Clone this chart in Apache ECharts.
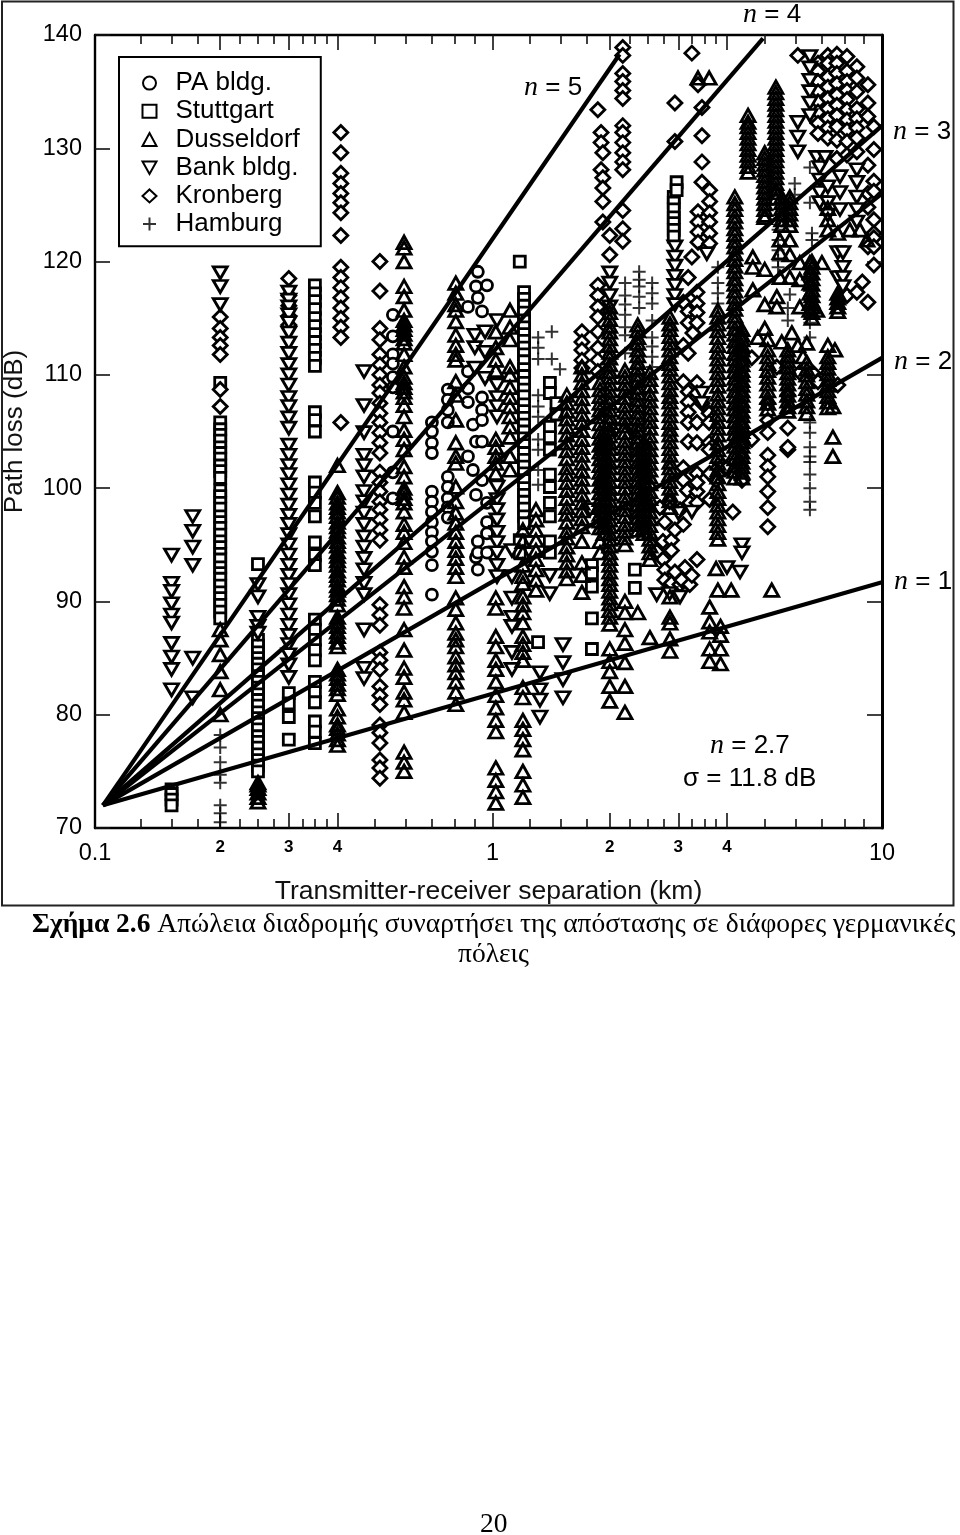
<!DOCTYPE html>
<html><head><meta charset="utf-8"><style>html,body{margin:0;padding:0;background:#fff}#c{width:960px;height:1535px}</style>
<script src="https://cdn.jsdelivr.net/npm/echarts@6/dist/echarts.min.js"></script></head><body><div id="c"></div><script>
// Axis ticks (km) and labels
const minorTicks=[.125,.15,.175,.225,.25,.275,.325,.35,.375,.5,.6,.7,.8,.9,1.25,1.5,1.75,2.25,2.5,2.75,3.25,3.5,3.75,5,6,7,8,9];
const majorTicks=[.2,.3,.4,1,2,3,4];
const smallLabels=[.2,.3,.4,2,3,4];
const yTicks=[70,80,90,100,110,120,130,140];
const xMin=0.0954, xMax=10;
// Reference lines: n, end point [km, dB]; all start at [0.1, 72]
const origin=[0.1,72];
const lineEnds=[[5,2.12,138.3],[4,4.95,139.7],[3,10,132],[2.7,10,126],[2,10,111.5],[1,10,91.7]];
// Measured columns: [km, dB, dB, ...]
const stuttgart=[
[.15,73.4,73,72.5,72],
[.2,109.3,105.8,105.2,104.7,104.2,103.6,103.1,102.6,102,101.5,100.9,99.8,99.3,98.7,98.2,97.5,97,96.5,95.9,95.3,94.8,94.2,93.7,93,92.5,92,91.4,90.8,90.3,89.7,89.1,88.5],
[.25,93.3,86.6,86.1,85.5,85,84.5,84,83.4,82.9,82.4,81.8,81.3,80.8,80.2,79.7,79.2,78.7,78.1,77.6,77.1,76.5,76,75.5,75],
[.3,81.9,81,79.8,77.8],
[.35,117.9,117.2,116.5,115.8,115,114.3,113.6,112.9,112.2,111.5,110.8,106.7,106,105,100.5,99.6,98.7,97.5,95.2,94.1,93.2,88.4,87.5,86.6,85.7,84.8,82.9,82,81.1,79.4,78.5,77.5],
[1.175,120,95.4,94.3],
[1.205,117.3,116.7,116.1,115.5,114.8,114.2,113.6,113,112.4,111.8,111.2,110.5,109.9,109.3,108.7,108.1,107.4,106.8,106.2,105.6,105,104.4,103.8,103.1,102.5,101.9,101.3,100.7,100,99.4,98.8,98.2,97.5,96.9],
[1.309,86.4],
[1.404,109.3,108.4,105.4,104.5,103.4,101.2,100.1,98.7,97.5,95.3,94.3],
[1.46,107.5,106.5],
[1.8,93.2,92.5,91.3,88.5,85.8],
[2.32,92.8,91.2],
[2.92,125.7,125.2,124.6,123.9,123.4,122.8,122.2],
[2.97,127,126.3]];
const paBldg=[
[.555,115.3,113.4,111.8,111,109.8,108.9,105,101.4,99.1],
[.699,105.8,105,104,103.1,99.7,98.8,97.9,97,96.1,95.3,94.4,93.2,90.6],
[.768,108.7,107.8,106.9,105.8,101,100.1,99.1,98.3,97.4],
[.865,116,110.3,108.8,107.6,102.8],
[.891,105.6,101.6],
[.907,117.8,104.1,99.4,93.9],
[.917,119.1,116.8,95.3,94.3,92.8],
[.94,115.6,108,106.9,106,104.1,100.7],
[.968,117.9,98.7,97,96,94.3]];
const kronberg=[
[.2,115.1,114.1,113.3,112.6,111.8,108.7,107.2],
[.3,118.5,117,116.1,115.2,114.4],
[.408,131.4,129.6,127.8,126.9,126,125.2,124.3,122.3,119.5,118.6,117.7,116.8,115.9,115,114.2,113.3,105.8],
[.514,120,117.4,114.1,113.1,111.8,110.9,110,109.1,108.4,107.5,106.6,105.8,104.9,104,103.1,101.4,100.5,99.7,98.8,98.1,97.2,96.3,95.4,89.7,88.8,87.9,85.5,84.8,84,82.5,81.7,80.9,79.1,78.4,77.5,76,75.3,74.4],
[1.697,113.8,112.9,112.2,111.3,110.6],
[1.864,133.4,117.9,117,116,115.1,113.8,112.4,111.3,110.3],
[1.9,131.4,130.5,128.1],
[1.92,129.6,127.4,126.5,125.3,123.5],
[2,122.3,120.6],
[2.16,138.9,138.2,136.6,135.9,135.1,134.4,132,131.4,130.5,129.6,128.8,128.1,124.5,122.9,121.8],
[2.64,94.4],[2.69,98.3],[2.74,95.3,93.7],[2.77,97,92.8,91.9],[2.85,98.8],[2.88,95.4,94.5,91.6],
[2.94,134,130.6,96.3,92.6],[3.03,98.1,91.5],[3.06,91.9],[3.09,116.4,112.6,109.4,101.8,100.7,96.8],
[3.12,93],[3.16,99.8],[3.18,118.6,115.6,114.6,111.9,108.5,107.6,106.7,105.8,104.1],[3.21,98.7,91.5],
[3.25,138.4,120.4,101.2,92.3],[3.27,113.7],[3.35,117.3,116.3,115.5,114.6,109.3,108.4,105.8,104,101.3,99.7,98.7,100.5,93.7],
[3.37,135.6,124.4,123.5,122.6,121.7],[3.45,133.6,131.1,128.8,127,107.5],[3.6,106.6,105.8,104,103.4],
[3.61,126.3,125.3,124.3,123.5,122.5,121.6,101.3,99],[3.75,100.7],[3.9,102],[4,101.8],[4.14,97.9],[4.37,100.7],
[4.63,111.5,104.3],[5.09,107.5,106,104.9,102.9,101.9,101,99.7,98.3,96.6],[5.37,110.7],[5.73,108.2,105.3,103.4,103.6],
[6.08,138.2],[6.15,110.2],[6.63,110.2],[6.85,137.5,136.8,135.9,135,134.1,133.2,132.2,131.3,109.4],
[7.26,138.2,137.5,136.3,135.4,134.4,133.5,132.6,131.8,130.9],
[7.66,138.3,137.5,136.6,135.7,134.7,133.8,132.9,131.9,130.7,129.1],[7.7,109.1],
[8.13,138.1,136.8,135.9,135.1,134.3,133.4,132.5,131.6,130.6,129.4,117],
[8.62,137.2,136.2,135,133.5,132.6,131.8,130.9,129.7,117.3],[8.9,118.2],
[9.2,135.6,134,132.8,128.5,126,124.8,121.3,116.4],
[9.53,131.9,129.9,127.1,126.2,123.7,122.5,122.1,121.3,119.7]];
const bankBldg=[
[.15,94.1,91.6,90.9,89.8,88.8,88.1,86.3,85.1,84,82.2],
[.17,97.5,96.2,94.8,93.2,85,81.5],
[.2,119,117.8,116.2],
[.25,91.5,90.4,88.6,87.8,87.2],
[.3,117.3,116.6,116,115.3,114.6,113.7,112.8,111.9,110.9,110,109.1,108,107.2,106.2,105.3,103.8,102.9,102,101.2,100.3,99.4,98.5,97.6,96.8,95.9,95,94.1,93.2,92.3,91.5,90.6,89.7,88.8,87.9,87,86.2,85.3,84.4,83.3],
[.468,110.3,107.3,104.9,102.9,102,101,99.7,98.8,97.8,96.8,95.7,94.8,93.8,92.8,91.6,90.6,87.5,84.1,83.2],
[.901,113.5,112.4,110.6],[.957,113.8,112,109.7],
[1.027,114.8,109.1,108,107.2,106.3,100.1,99,98.1,97.2,96.1,95.2,94.3,93.2,92.2],
[1.122,94.5,92.2,90.3,88.6,87.8,85.5,84],
[1.324,83.7,82.2,81.3,79.8],[1.403,92.3,90.7],[1.517,86.2,84.6,83.1,81.5],[1.78,98.1],
[2,119,118.1,117,116],[2.07,105.1],[2.28,105.1],[2.64,90.6],[2.85,90.7],
[2.94,121.3,120.4,119.6,118.7,117.9,117,116.2],[3,97.8],[3.03,90.4],[3.25,97.9],[3.45,108.4,107.5],[3.55,120.7],
[4,93],[4.32,92.6],[4.37,95,94.3],
[6.08,132.3,131,129.7],[6.53,138.1,137.1,136,135,134,132.9],[6.8,129.2],[6.92,128.3,127.2,126.1,125.2],[7.14,129.2],
[7.26,126.6,125.2,124.1],[7.7,120.8,118.6],[7.8,127.5,126.1,124.6],[7.94,120.8,119.5,118.6,117.8],[8.62,128.1,127,125.7,124.6,123.5]];
const dusseldorf=[
[.2,87.5,86.6,85.3,83.8,82.2,80],
[.25,74,73.8,73.5,73.1,72.7,72.3],
[.4,102,99.6,99.2,98.7,98.3,97.9,97.5,97,96.6,96.2,95.7,95.3,94.9,94.4,94,93.6,93.2,92.7,92.3,91.9,91.4,91,90.6,90.2,89.7,88.6,88.2,87.8,87.3,86.9,86.4,86,84,83.6,83.2,82.7,82.3,81.8,80.5,79.8,79.1,78.8,78.3,77.8,77.3],
[.593,121.7,121.2,120,117.8,116.9,115.7,114.8,114.4,114,113.6,113.2,112.8,111.8,110.7,109.8,109.3,108.9,108.5,108,107.3,106.3,105.1,104.3,103.4,101.9,101,100,99.6,99.1,98.7,97.9,96.8,96.1,95.2,93.9,93,91.3,90.4,89.4,87.5,85.7,84.1,83.3,82,81.3,80.2,76.7,75.8,75],
[.805,118.1,117.2,116.2,115.7,114.7,113.5,112.6,111.8,111.3,109.4,108.2,106,104,102.8,102.2,100.1,98.8,97.8,96.9,96.1,95.3,94.5,93.8,93,92.2,90.3,89.3,88.1,87.2,86.6,86,85.1,84.4,83.7,82.9,82,80.9],
[1.02,113.8,112.4,111.3,110.4,104.3,103.6,102.8,102.2,101.3,90.3,89.4,86.9,86,84.8,84,82.9,81.7,80.6,79.5,78.5,75.3,74.2,73.2,72.2],
[1.109,115.7,114.2,113.1,110.7,110,108.9,108,107.2,106.3,105.4,104.5,102.8,101.6],
[1.197,96.3,95.3,94.3,93.2,92.2,91.6,90.4,89.7,89,88.1,86.9,86.2,85.5,84.8,82.4,81.5,79.5,78.7,77.8,76.9,75,73.8,72.7],
[1.293,98.1,97.2,96.3,95.4,94.5,93.7,92.8,91.9,91],
[1.552,108.2,107.5,106.8,106.1,105.4,104.7,104,103.3,102.6,101.8,101.2,100.5,99.8,99.1,98.3,97.7,97,96.2,95.6,94.8,94.1,93.4,92.7,92],
[1.697,110.7,110,109.3,108.6,107.9,107.2,106.5,105.8,105.1,104.3,103.6,102.9,102.2,101.5,100.8,100.1,99.4,98.7,98,97.3,96.6,95.3,93.4,92.3,90.8],
[1.888,109.3,108.7,108.1,107.5,106.9,106.3,105.7,105,104.4,103.8,103.2,102.6,102,101.4,100.8,100.2,99.6,99,98.3,97.7,97.1,96.5,95.3,94.3],
[1.932,105,104.5,104,103.5,103,102.5,102,101.5,101,100.5,100,99.5,99,98.5,98,97.5,97,96.5,96],
[2,116,115.5,114.9,114.3,113.8,113.2,112.6,112,111.5,110.9,110.3,109.8,109.2,108.6,108,107.5,106.9,106.3,105.8,105.2,104.6,104,103.5,102.9,102.3,101.8,101.2,100.6,100,99.5,98.9,98.3,97.8,97.2,96.6,96,95.5,94.9,94.3,93.8,93.2,92.6,92,91.5,90.9,90.3,89.8,89.2,88.6,88,85.8,84.7,83.8,82.5,81.2],
[2.188,110.4,109.8,109.2,108.6,108,107.3,106.7,106.1,105.5,104.9,104.2,103.6,103,102.4,101.8,101.2,100.6,100,99.3,98.7,98.1,97.5,96.8,96.2,95.6,95,90,89,87.5,86.3,84.6,82.5,80.2],
[2.361,114.4,113.9,113.3,112.8,112.2,111.7,111.1,110.6,110,109.5,108.9,108.4,107.8,107.3,106.7,106.2,105.6,105.1,104.5,104,103.4,102.9,102.3,101.8,101.2,100.7,100.1,99.6,99,98.5,97.9,97.4,96.8,96.3,89],
[2.449,104,103.5,103,102.5,102,101.5,101,100.5,100,99.5,99,98.5,98,97.5,97,96.5,96],
[2.536,110.2,109.6,109,108.3,107.7,107.1,106.5,105.9,105.3,104.6,104,103.4,102.8,102.2,101.6,101,100.4,99.7,99.1,98.5,97.9,97.3,96.7,96.1,95.5,94.9,94.3,93.7,86.8],
[2.855,115.1,114.5,114,113.4,112.8,112.2,111.6,111,110.5,109.9,109.3,108.7,108.1,107.6,107,106.4,105.8,105.2,104.7,104.1,103.5,102.9,102.3,101.8,101.2,100.6,100,99.4,98.9,98.3,90.4,88.1,88.6,86.7,85.6],
[3.6,136.2],[3.37,136.2],
[3.61,89.5,88.2,87.3,85.8,84.7],[3.75,92.9],[3.79,115.7,115.1,114.5,113.9,113.3,112.6,112,111.4,110.8,110.2,109.6,109,108.3,107.7,107.1,106.5,105.9,105.3,104.7,104,103.4,102.8,102.2,101.6,101,100.4,99.7,99.1,98.5,97.9,97.3,96.7,96.1,95.5,91],
[3.85,85.8,84.5,87.8,87],[4.1,91],
[4.19,125.7,125.1,124.6,124,123.5,122.9,122.4,121.8,121.3,120.7,120.2,119.6,119.1,118.5,118,117.4,116.9,116.3,115.8,115.2,114.7,114.1,113.6,113,112.5,111.9,111.4,110.8,110.3,109.7,109.2,108.6,108.1,107.5,107,106.4,105.9,105.3,104.8,104.2,103.7,103.1,102.6,102,101.5,100.9],
[4.37,114,113.5,113.1,112.6,112.2,111.8,111.3,110.9,110.4,110,109.5,109.1,108.6,108.2,107.7,107.3,106.8,106.4,105.9,105.5,105,104.6,104.1,103.7,103.2,102.8,102.3,101.9,101.4,100.9],
[4.53,132.9,132.3,131.9,131.4,130.9,130.4,129.9,129.4,128.9,128.4,127.9],
[4.66,120.4,119.5,117.5],[4.8,113.3],[5,129.6,129.1,128.6,128.1,127.6,127.1,126.6,126.1,125.6,125.1,124.6,124.1,123.9,119.3,116.2,114.1],
[5.09,113.1,112.2,111.6,111,110.4,109.8,109.2,108.6,108,107.5,107],[5.21,91],
[5.34,135.4,134.9,134.4,133.9,133.4,132.9,132.4,131.9,131.4,130.9,130.4,129.9,129.4,128.9,128.4,127.9,127.4,126.9,126.4,126.1,125.6],
[5.37,116.9,116],
[5.47,121.9,120.8,118.6],[5.53,125.7,125.2,124.7,124.2,123.7,123.2,112.9],[5.8,125.7,125.2,124.7,124.2,123.7,123.2,121.9,120.6,118.6],
[5.73,112.2,111.7,111.2,110.7,110.2,109.7,109.2,108.7,108.2,107.7,107.2,106.8],[5.87,113.7],[6.08,112.6],
[6.15,119.9,118.4,116],[6.27,111.6],[6.41,112.8,111.1,110.5,110,109.4,108.8,108.3,107.7,107.2,106.6],
[6.53,119.9,119,118.1,117.2,116.3,115.7],[6.61,120,119.5,119,118.5,118,117.5,117,116.5,116,115.5,115],
[6.8,115.7],[7.01,119.9],
[7.26,124.7,123.7,122.8,112.6,111.6,111.1,110.6,110.1,109.6,109.1,108.6,108.1,107.6,107.1],[7.48,107.2,104.5,102.8],[7.57,112.2],
[7.7,122.5,117.2,116.8,116.4,116,115.6],[8.27,122.8],[8.78,122.8],[9.15,121.9]];
const hamburg=[
[.2,78.2,77.1,75.8,74.7,74,72,71.3,70.5],
[1.31,113.3,112.4,111.4,108.2,107.2,106.3,104.3,103.4,101.6,100.3],
[1.42,113.8,111.4],[1.49,110.5],
[2.19,118.1,117,116.2,115.3,114.2,113.5,111.9],
[2.38,119.1,118.4,117.8,116.9,115.9],
[2.57,118.1,117.2,116.3,114.8,113.3,112.5,111.6,110.7],
[3.79,119.5,118.1,117.2,116.3],
[5.41,122.8,121.9,121,120.1,119.5],
[5.73,115.9,114.8],[5.8,117.1],[5.97,126.9,125.9],
[6.53,128.3,125.2,114.6,113.3,105.8,104.9,103.6,102.8,102.3,101.2,100,98.8,98.1],
[6.61,122.5,121.9,118.6,117.8,116.9,116]];

const expand=cols=>cols.flatMap(c=>c.slice(1).map(y=>[c[0],y]));
const plus='path://M0 5H10M5 0V10';
const inverted='path://M0 0L10 0L5 9Z';
const mark=(name,cols,symbol,size,fill,extra)=>Object.assign({name,type:'scatter',data:expand(cols),symbol,symbolSize:size,silent:true,
  itemStyle:{color:fill,borderColor:'#000',borderWidth:2.8,opacity:1},animation:false},extra||{});
const lineSeries=lineEnds.map(e=>({name:'n='+e[0],type:'line',data:[origin,[e[1],e[2]]],symbol:'none',silent:true,animation:false,
  lineStyle:{color:'#000',width:4.2,cap:'butt'}}));
const series=[...lineSeries,
 mark('Stuttgart',stuttgart,'rect',[11,11],'#fff'),
 mark('PA bldg.',paBldg,'circle',[11,11],'#fff'),
 mark('Kronberg',kronberg,'diamond',[14,14],'#fff'),
 mark('Bank bldg.',bankBldg,inverted,[14,12],'#fff'),
 mark('Dusseldorf',dusseldorf,'triangle',[14,12.5],'none'),
 mark('Hamburg',hamburg,plus,[13,13],'none',{itemStyle:{borderColor:'#000',borderWidth:2,color:'none'}})
];
const xBase={type:'log',logBase:10,min:xMin,max:xMax,axisLine:{show:false,onZero:false},splitLine:{show:false},minorSplitLine:{show:false},axisLabel:{show:false},axisTick:{show:false}};
const tickAxis=(pos,vals,len,extra)=>Object.assign({},xBase,{position:pos,axisTick:{show:true,inside:true,length:len,customValues:vals,lineStyle:{color:'#111',width:1.6}}},extra||{});
const sans='"Liberation Sans"';
const xAxes=[
 tickAxis('bottom',minorTicks,9,{axisLine:{show:true,onZero:false,lineStyle:{color:'#000',width:2.4}},name:'Transmitter-receiver separation (km)',nameLocation:'middle',nameGap:50,nameTextStyle:{fontFamily:sans,fontSize:26.5,color:'#111'}}),
 tickAxis('bottom',majorTicks,15),
 tickAxis('top',minorTicks,9,{axisLine:{show:true,onZero:false,lineStyle:{color:'#000',width:2.4}}}),
 tickAxis('top',majorTicks,15),
 Object.assign({},xBase,{position:'bottom',axisLabel:{show:true,customValues:[xMin,1,10],margin:14,fontFamily:sans,fontSize:23.5,color:'#000',formatter:v=>v<0.5?'0.1':(v<5?'1':'10'),showMinLabel:true,showMaxLabel:true}}),
 Object.assign({},xBase,{position:'bottom',axisLabel:{show:true,customValues:smallLabels,margin:11,fontFamily:sans,fontSize:17,fontWeight:'bold',color:'#000',formatter:v=>String(v<1?Math.round(v*10):v)}})
];
const yBase={type:'value',min:70,max:140,interval:10,splitLine:{show:false},axisTick:{show:true,inside:true,length:15,lineStyle:{color:'#111',width:1.6}},axisLine:{show:true,onZero:false,lineStyle:{color:'#000',width:2.4}}};
const nText=(t,x,y)=>({type:'text',left:x,top:y,z:50,style:{text:t,fill:'#000',font:'26px '+sans,rich:{i:{fontFamily:'"Liberation Serif"',fontStyle:'italic',fontSize:28,fill:'#000'}}}});
const option={animation:false,backgroundColor:'#fff',
 grid:{left:95,right:78,top:35,bottom:707,containLabel:false,outerBoundsMode:'none'},
 xAxis:xAxes,
 yAxis:[Object.assign({},yBase,{position:'left',axisLabel:{margin:13,fontFamily:sans,fontSize:23.5,color:'#000'},name:'Path loss (dB)',nameLocation:'middle',nameGap:67,nameTextStyle:{fontFamily:sans,fontSize:26,color:'#111'}}),
        Object.assign({},yBase,{position:'right',axisLabel:{show:false},axisLine:{show:true,onZero:false,lineStyle:{color:'#000',width:3}}})],
 legend:{show:true,data:[{name:'PA bldg.'},{name:'Stuttgart'},{name:'Dusseldorf'},{name:'Bank bldg.',icon:inverted},{name:'Kronberg'},{name:'Hamburg'}],left:119,top:57,orient:'vertical',align:'left',
  padding:[12,21,8,21],itemWidth:14,itemHeight:13,itemGap:0,borderColor:'#000',borderWidth:2,selectedMode:false,backgroundColor:'#fff',z:20,
  textStyle:{fontFamily:sans,fontSize:26,color:'#000',lineHeight:28.2,padding:[0,0,0,14]}},
 series,
 graphic:[
  {type:'rect',z:-1,shape:{x:2,y:1.5,width:951.5,height:904},style:{fill:'none',stroke:'#222',lineWidth:2}},
  nText('{i|n} = 5',524,74),nText('{i|n} = 4',743,1),nText('{i|n} = 3',893,118),nText('{i|n} = 2',894,348),nText('{i|n} = 1',894,568),
  nText('{i|n} = 2.7',710,732),
  {type:'text',left:683,top:766,z:50,style:{text:'σ = 11.8 dB',fill:'#000',font:'26px '+sans}},
  {type:'text',left:32,top:911,z:50,style:{text:'{b|Σχήμα 2.6} Απώλεια διαδρομής συναρτήσει της απόστασης σε διάφορες γερμανικές',fill:'#000',font:'27.5px "Liberation Serif"',rich:{b:{fontWeight:'bold',fontFamily:'"Liberation Serif"',fontSize:27.5,fill:'#000'}}}},
  {type:'text',left:458,top:941,z:50,style:{text:'πόλεις',fill:'#000',font:'27.5px "Liberation Serif"'}},
  {type:'text',left:480,top:1511,z:50,style:{text:'20',fill:'#000',font:'27.5px "Liberation Serif"'}}
 ]};
const chart=echarts.init(document.getElementById('c'),null,{renderer:'canvas'});
chart.setOption(option);
</script></body></html>
